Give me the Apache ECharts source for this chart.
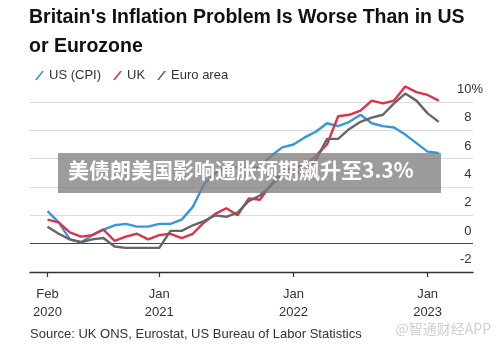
<!DOCTYPE html>
<html>
<head>
<meta charset="utf-8">
<style>
  html, body { margin: 0; padding: 0; background: #fff; }
  #chart { width: 500px; height: 346px; }
</style>
<script src="https://cdn.jsdelivr.net/npm/echarts@6/dist/echarts.min.js"></script>
</head>
<body>
<div id="chart"></div>
<script>
// Monthly year-over-year inflation, Feb 2020 – Jan 2023 (%)
const months = [
  '2020-02','2020-03','2020-04','2020-05','2020-06','2020-07','2020-08','2020-09','2020-10','2020-11','2020-12',
  '2021-01','2021-02','2021-03','2021-04','2021-05','2021-06','2021-07','2021-08','2021-09','2021-10','2021-11','2021-12',
  '2022-01','2022-02','2022-03','2022-04','2022-05','2022-06','2022-07','2022-08','2022-09','2022-10','2022-11','2022-12',
  '2023-01'
];
const usCpi = [
  2.3, 1.5, 0.3, 0.1, 0.6, 1.0, 1.3, 1.4, 1.2, 1.2, 1.4,
  1.4, 1.7, 2.6, 4.2, 5.0, 5.4, 5.4, 5.3, 5.4, 6.2, 6.8, 7.0,
  7.5, 7.9, 8.5, 8.3, 8.6, 9.1, 8.5, 8.3, 8.2, 7.7, 7.1, 6.5,
  6.4
];
const ukCpi = [
  1.7, 1.5, 0.8, 0.5, 0.6, 1.0, 0.2, 0.5, 0.7, 0.3, 0.6,
  0.7, 0.4, 0.7, 1.5, 2.1, 2.5, 2.0, 3.2, 3.1, 4.2, 5.1, 5.4,
  5.5, 6.2, 7.0, 9.0, 9.1, 9.4, 10.1, 9.9, 10.1, 11.1, 10.7, 10.5,
  10.1
];
const euroArea = [
  1.2, 0.7, 0.3, 0.1, 0.3, 0.4, -0.2, -0.3, -0.3, -0.3, -0.3,
  0.9, 0.9, 1.3, 1.6, 2.0, 1.9, 2.2, 3.0, 3.4, 4.1, 4.9, 5.0,
  5.1, 5.9, 7.4, 7.4, 8.1, 8.6, 8.9, 9.1, 9.9, 10.6, 10.1, 9.2,
  8.6
];
// Date ticks along the bottom axis (month index -> label)
const xTickIndex = [0, 10, 22, 34];
const xTickLabels = ['Feb\n2020', 'Jan\n2021', 'Jan\n2022', 'Jan\n2023'];
const seriesNames = ['US (CPI)', 'UK', 'Euro area'];
const seriesColors = ['#3598dc', '#e0304a', '#666666'];

const toPoints = arr => arr.map((v, i) => [i, v]);
const slash = 'path://M0,10 L2.2,10 L10,0 L7.8,0 Z';
const font = '"Liberation Sans", Arial, sans-serif';

const chart = echarts.init(document.getElementById('chart'), null, { renderer: 'canvas' });
chart.setOption({
  animation: false,
  backgroundColor: '#ffffff',
  textStyle: { fontFamily: font },
  title: {
    text: "Britain's Inflation Problem Is Worse Than in US\nor Eurozone",
    left: 29, top: 3, padding: 0,
    textStyle: { fontFamily: font, fontSize: 19.5, fontWeight: 'bold', color: '#111', lineHeight: 29 }
  },
  legend: {
    left: 30, top: 64,
    itemWidth: 9, itemHeight: 10, itemGap: 12,
    textStyle: { fontSize: 13, color: '#333', fontFamily: font },
    data: seriesNames.map((n, i) => ({ name: n, icon: slash, itemStyle: { color: seriesColors[i] } }))
  },
  grid: { left: 30, right: 27, top: 73.7, bottom: 74 },
  xAxis: {
    type: 'value',
    min: -1.565, max: 38.06,
    axisLine: { show: true, onZero: false, lineStyle: { color: '#333', width: 1.3 } },
    axisTick: { show: true, customValues: xTickIndex, length: 5, lineStyle: { color: '#333', width: 1.2 } },
    axisLabel: {
      customValues: xTickIndex,
      formatter: v => xTickLabels[xTickIndex.indexOf(v)] || '',
      color: '#333', fontSize: 13, lineHeight: 18, margin: 13
    },
    splitLine: { show: false }
  },
  yAxis: {
    type: 'value',
    position: 'right',
    min: -2, max: 12, interval: 2,
    axisLine: { show: false, onZero: false },
    axisTick: { show: false },
    axisLabel: {
      inside: true, margin: -10,
      verticalAlign: 'bottom',
      padding: [0, 0, 6, 0],
      color: '#333', fontSize: 13,
      // every label carries a percent sign; only the top one shows it
      formatter: v => v === 12 ? '' : (v === 10 ? '10%' : v + '{h|%}'),
      rich: { h: { fontSize: 13, color: 'rgba(0,0,0,0)' } }
    },
    splitLine: {
      show: true,
      lineStyle: {
        color: ['#333', '#444', '#dcdcdc', '#dcdcdc', '#dcdcdc', '#dcdcdc', '#dcdcdc', 'rgba(0,0,0,0)'],
        width: 1.2
      }
    }
  },
  series: [usCpi, ukCpi, euroArea].map((arr, i) => ({
    name: seriesNames[i],
    type: 'line',
    data: toPoints(arr),
    showSymbol: false,
    lineStyle: { color: seriesColors[i], width: 2.4 },
    itemStyle: { color: seriesColors[i] }
  })),
  graphic: [
    {
      type: 'text', right: 9, top: 322, z: 10,
      style: { text: '@智通财经APP', fill: '#cfcfcf', font: '14px "Noto Sans CJK SC", sans-serif' }
    },
    {
      type: 'text', left: 30, top: 328, z: 10,
      style: { text: 'Source: UK ONS, Eurostat, US Bureau of Labor Statistics', fill: '#333', font: '13px ' + font }
    },
    {
      type: 'rect', left: 58, top: 153, z: 20,
      shape: { width: 383, height: 40 },
      style: { fill: 'rgba(128,128,128,0.78)' }
    },
    {
      type: 'text', left: 68, top: 160, z: 21,
      style: {
        text: '美债朗美国影响通胀预期飙升至3.3%',
        fill: '#ffffff',
        font: 'bold 21px "Noto Sans CJK SC", sans-serif'
      }
    }
  ]
});
</script>
</body>
</html>
